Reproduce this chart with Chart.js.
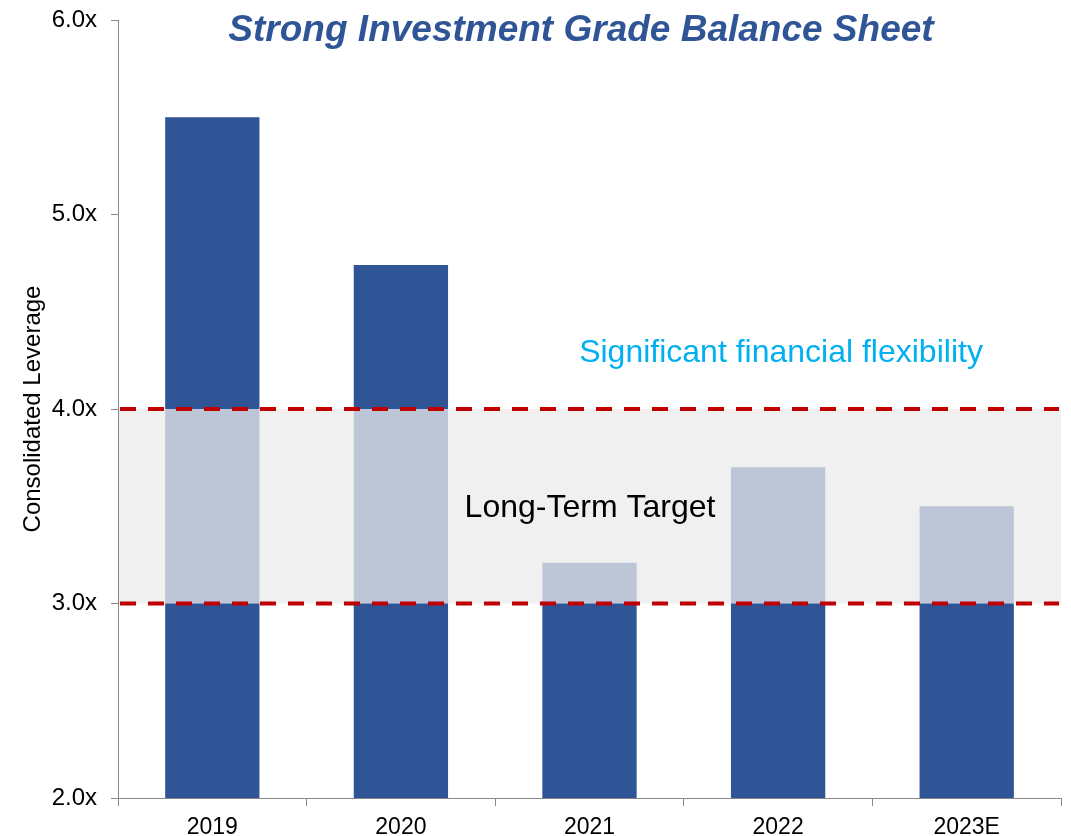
<!DOCTYPE html>
<html>
<head>
<meta charset="utf-8">
<script src="https://cdn.jsdelivr.net/npm/chart.js@4"></script>
<style>
  html, body { margin: 0; padding: 0; background: #fff; }
  #wrap { width: 1071px; height: 836px; }
</style>
</head>
<body>
<div id="wrap"><canvas id="leverage-chart" width="1071" height="836"></canvas></div>
<script>
// Consolidated leverage by year
const years = ['2019', '2020', '2021', '2022', '2023E'];
const leverage = [5.5, 4.74, 3.21, 3.70, 3.50];
const yTicks = [2, 3, 4, 5, 6];
const targetLow = 3.0;
const targetHigh = 4.0;

const darkBlue = '#2f5597';
const lightBlue = '#bdc6d7';
const fontFamily = '"Liberation Sans", Arial, sans-serif';

// split each bar into below / inside / above the target band
const belowBand = leverage.map(v => [yTicks[0], Math.min(v, targetLow)]);
const inBand = leverage.map(v => v > targetLow ? [targetLow, Math.min(v, targetHigh)] : null);
const aboveBand = leverage.map(v => v > targetHigh ? [targetHigh, v] : null);

const bandPlugin = {
    id: 'band',
    beforeDatasetsDraw(chart) {
        const { ctx, chartArea, scales } = chart;
        const yTop = scales.y.getPixelForValue(targetHigh);
        const yBot = scales.y.getPixelForValue(targetLow);
        ctx.save();
        ctx.fillStyle = '#f0f0f0';
        ctx.fillRect(chartArea.left + 1, yTop, chartArea.right - chartArea.left - 1, yBot - yTop);
        ctx.restore();
    },
    afterDatasetsDraw(chart) {
        const { ctx, chartArea, scales } = chart;
        ctx.save();
        ctx.strokeStyle = '#c00000';
        ctx.lineWidth = 4;
        ctx.setLineDash([16, 12]);
        [targetLow, targetHigh].forEach(v => {
            const y = scales.y.getPixelForValue(v);
            ctx.beginPath();
            ctx.moveTo(chartArea.left + 2, y);
            ctx.lineTo(chartArea.right - 2, y);
            ctx.stroke();
        });
        ctx.setLineDash([]);

        ctx.textAlign = 'center';
        ctx.textBaseline = 'middle';
        ctx.fillStyle = darkBlue;
        ctx.font = 'italic bold 37px ' + fontFamily;
        ctx.fillText('Strong Investment Grade Balance Sheet', 581, 31);

        ctx.fillStyle = '#00b0f0';
        ctx.font = '32px ' + fontFamily;
        ctx.fillText('Significant financial flexibility', 781, 353);

        ctx.fillStyle = '#000';
        ctx.fillText('Long-Term Target', 590, 508);
        ctx.restore();
    }
};

const ctx = document.getElementById('leverage-chart').getContext('2d');
new Chart(ctx, {
    type: 'bar',
    data: {
        labels: years,
        datasets: [
            { data: belowBand, backgroundColor: darkBlue },
            { data: inBand, backgroundColor: lightBlue },
            { data: aboveBand, backgroundColor: darkBlue }
        ]
    },
    options: {
        responsive: false,
        animation: false,
        layout: { padding: { top: 20, right: 10, left: 0, bottom: 0 } },
        datasets: {
            bar: { grouped: false, barPercentage: 0.5, categoryPercentage: 1, borderWidth: 0 }
        },
        plugins: {
            legend: { display: false },
            tooltip: { enabled: false }
        },
        scales: {
            x: {
                grid: { display: true, drawOnChartArea: false, offset: true, tickLength: 8, color: '#888' },
                border: { color: '#888', width: 1 },
                ticks: { color: '#000', font: { family: fontFamily, size: 23 }, padding: 8 },
                afterFit(scale) {
                    scale.height = 38;
                    scale.paddingLeft = 0;
                    scale.paddingRight = 0;
                }
            },
            y: {
                min: yTicks[0],
                max: yTicks[yTicks.length - 1],
                afterBuildTicks(scale) { scale.ticks = yTicks.map(v => ({ value: v })); },
                grid: { display: true, drawOnChartArea: false, tickLength: 7, color: '#888' },
                border: { color: '#888', width: 1 },
                ticks: {
                    color: '#000',
                    font: { family: fontFamily, size: 24 },
                    padding: 14,
                    callback: v => v.toFixed(1) + 'x'
                },
                title: {
                    display: true,
                    text: 'Consolidated Leverage',
                    color: '#000',
                    font: { family: fontFamily, size: 24 },
                    padding: { top: 19, bottom: 0 }
                },
                afterFit(scale) {
                    scale.width = 118;
                    scale.paddingTop = 0;
                    scale.paddingBottom = 0;
                }
            }
        }
    },
    plugins: [bandPlugin]
});
</script>
</body>
</html>
